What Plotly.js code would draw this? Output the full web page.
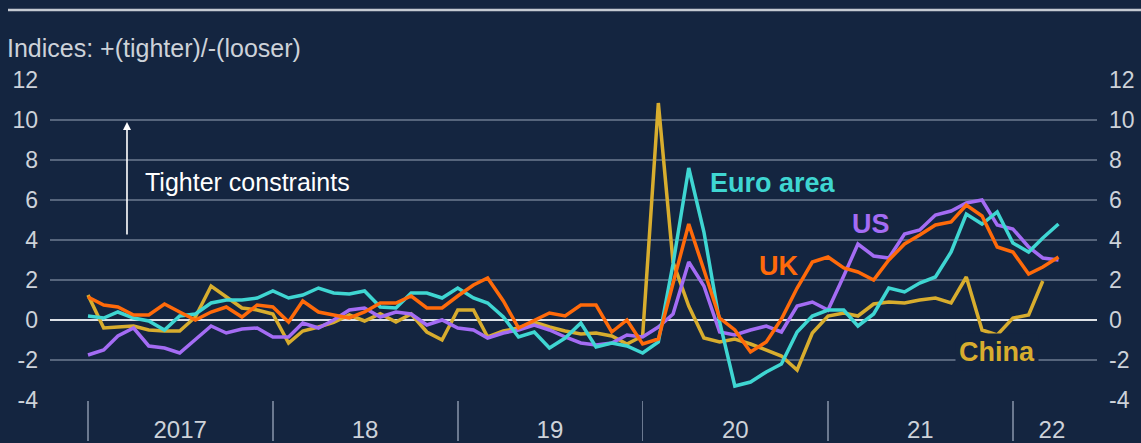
<!DOCTYPE html>
<html>
<head>
<meta charset="utf-8">
<script src="https://cdn.plot.ly/plotly-3.0.1.min.js"></script>
<style>
html,body{margin:0;padding:0;background:#142540;}
#chart{width:1141px;height:443px;}
</style>
</head>
<body>
<div id="chart"></div>
<script>
// Monthly observations starting January 2017
const startYear = 2017;
const usValues = [
  -1.75, -1.5, -0.8, -0.4, -1.3, -1.4, -1.65, -0.95, -0.3, -0.65, -0.45, -0.4,
  -0.85, -0.85, -0.15, -0.4, 0.0, 0.5, 0.6, 0.15, 0.4, 0.3, -0.25, 0.0,
  -0.4, -0.5, -0.9, -0.65, -0.5, -0.25, -0.5, -0.85, -1.15, -1.25, -1.15, -0.75,
  -0.85, -0.35, 0.3, 2.9, 1.7, -0.6, -0.75, -0.5, -0.3, -0.6, 0.7, 0.9,
  0.5, 2.2, 3.8, 3.2, 3.1, 4.3, 4.5, 5.25, 5.45, 5.85, 6.0, 4.75,
  4.55, 3.65, 3.1, 3.0
];
const euroValues = [
  0.2, 0.1, 0.4, 0.1, -0.05, -0.5, 0.2, 0.3, 0.85, 1.0, 1.0, 1.1,
  1.45, 1.1, 1.25, 1.6, 1.35, 1.3, 1.45, 0.65, 0.6, 1.35, 1.35, 1.1,
  1.6, 1.1, 0.85, 0.15, -0.85, -0.6, -1.4, -0.9, -0.15, -1.35, -1.15, -1.3,
  -1.65, -1.1, 2.8, 7.6, 4.4, -0.1, -3.3, -3.1, -2.6, -2.2, -0.6, 0.2,
  0.5, 0.5, -0.3, 0.3, 1.6, 1.4, 1.85, 2.15, 3.4, 5.3, 4.8, 5.4,
  3.85, 3.4, 4.1, 4.8
];
const ukValues = [
  1.15, 0.75, 0.65, 0.25, 0.25, 0.8, 0.4, 0.0, 0.4, 0.65, 0.15, 0.75,
  0.65, -0.1, 0.95, 0.4, 0.25, 0.1, 0.4, 0.85, 0.85, 1.2, 0.6, 0.6,
  1.2, 1.75, 2.1, 0.95, -0.4, 0.0, 0.35, 0.2, 0.75, 0.75, -0.6, 0.0,
  -1.2, -0.95, 1.8, 4.8, 2.5, 0.1, -0.5, -1.6, -1.1, 0.05, 1.6, 2.9,
  3.15, 2.6, 2.4, 2.0, 3.0, 3.8, 4.25, 4.75, 4.9, 5.75, 5.2, 3.65,
  3.4, 2.3, 2.65, 3.15
];
const chinaValues = [
  1.25, -0.4, -0.35, -0.3, -0.5, -0.55, -0.55, 0.15, 1.7, 1.15, 0.6, 0.5,
  0.3, -1.15, -0.55, -0.35, -0.12, 0.25, -0.05, 0.32, -0.1, 0.3, -0.6, -1.0,
  0.5, 0.5, -0.85, -0.55, -0.4, -0.1, -0.35, -0.55, -0.7, -0.65, -0.8, -1.2,
  -0.8, 10.85, 2.9, 0.7, -0.9, -1.1, -0.95, -1.2, -1.5, -1.8, -2.5, -0.65,
  0.2, 0.35, 0.2, 0.8, 0.9, 0.85, 1.0, 1.1, 0.85, 2.15, -0.5, -0.75,
  0.1, 0.25, 1.95
];
const yearStarts = ['2017-01-01','2018-01-01','2019-01-01','2020-01-01','2021-01-01','2022-01-01'];
const yearLabelPos = ['2017-07-02','2018-07-02','2019-07-02','2020-07-02','2021-07-02','2022-03-19'];
const yearLabels = ['2017','18','19','20','21','22'];
const yTickVals = [-4,-2,0,2,4,6,8,10,12];
const yTickText = ['-4','-2','0','2','4','6','8','10','12'];

function months(n){
  const out=[];
  for(let i=0;i<n;i++){
    const y = startYear + Math.floor(i/12);
    const m = (i%12)+1;
    out.push(y + '-' + (m<10?'0':'') + m + '-01');
  }
  return out;
}

const BG = '#142540';
const GRID = '#56657c';
const TXT = '#cdd2d9';
const FONT = 'Liberation Sans, Arial, sans-serif';

const series = [
  {name:'China', vals: chinaValues, color:'#d8ad2e'},
  {name:'US', vals: usValues, color:'#a46cf4'},
  {name:'Euro area', vals: euroValues, color:'#3fd6d2'},
  {name:'UK', vals: ukValues, color:'#ff6a0a'}
];
const traces = series.map(s => ({
  type:'scatter', mode:'lines', name:s.name,
  x: months(s.vals.length), y: s.vals,
  line:{color:s.color, width:3.5}, hoverinfo:'skip'
}));
// invisible trace to activate the secondary axes
traces.push({type:'scatter', mode:'lines', x:[yearStarts[0]], y:[0], xaxis:'x2', yaxis:'y2', showlegend:false, hoverinfo:'skip', line:{width:0}});

const xRange = ['2016-10-18','2022-06-16'];
const yRange = [-4, 12];

const layout = {
  width:1141, height:443,
  paper_bgcolor:BG, plot_bgcolor:BG,
  margin:{l:50, r:44, t:80, b:43},
  showlegend:false,
  font:{family:FONT, color:TXT, size:22},
  title:{text:'Indices: +(tighter)/-(looser)', x:7/1141, xanchor:'left', xref:'container',
         y:1-48/443, yanchor:'middle', yref:'container', font:{family:FONT, size:25, color:TXT}},
  xaxis:{type:'date', range:xRange, tickmode:'array', tickvals:yearStarts, ticktext:yearStarts.map(()=>''),
         ticks:'outside', ticklen:40, tickwidth:1.5, tickcolor:'#6b7990', showgrid:false, zeroline:false,
         showline:false, fixedrange:true},
  xaxis2:{type:'date', overlaying:'x', matches:'x', range:xRange, anchor:'y', side:'bottom',
          tickmode:'array', tickvals:yearLabelPos, ticktext:yearLabels, ticks:'', showgrid:false,
          zeroline:false, showline:false, ticklabelstandoff:13, tickfont:{size:24, color:TXT}},
  yaxis:{range:yRange, tickmode:'array', tickvals:yTickVals, ticktext:yTickText, showgrid:true,
         gridcolor:GRID, gridwidth:1.5, zeroline:true, zerolinecolor:'#dde1e6', zerolinewidth:2,
         ticks:'', showline:false, tickfont:{size:23, color:TXT}, ticklabelstandoff:11},
  yaxis2:{range:yRange, overlaying:'y', side:'right', anchor:'x', tickmode:'array', tickvals:yTickVals,
          ticktext:yTickText, showgrid:false, zeroline:false, ticks:'', showline:false,
          tickfont:{size:23, color:TXT}, ticklabelstandoff:11},
  shapes:[
    {type:'line', xref:'paper', yref:'paper', x0:(8-50)/1047, x1:(1141-50)/1047,
     y0:(400-10)/320, y1:(400-10)/320, line:{color:'#c5cad2', width:2.5}}
  ],
  annotations:[
    {x:'2017-03-19', y:9.9, ax:'2017-03-19', ay:4.2, axref:'x', ayref:'y', xref:'x', yref:'y',
     text:'', showarrow:true, arrowhead:2, arrowsize:1, arrowwidth:1.6, arrowcolor:'#ffffff'},
    {x:'2017-04-19', y:6.9, xref:'x', yref:'y', text:'Tighter constraints', showarrow:false,
     xanchor:'left', yanchor:'middle', font:{size:25, color:'#ffffff', family:FONT}},
    {x:'2020-05-09', y:6.85, xref:'x', yref:'y', text:'<b>Euro area</b>', showarrow:false,
     xanchor:'left', yanchor:'middle', font:{size:27, color:'#3fd6d2', family:FONT}},
    {x:'2021-02-13', y:4.8, xref:'x', yref:'y', text:'<b>US</b>', showarrow:false,
     xanchor:'left', yanchor:'middle', font:{size:27, color:'#a46cf4', family:FONT}},
    {x:'2020-08-13', y:2.7, xref:'x', yref:'y', text:'<b>UK</b>', showarrow:false,
     xanchor:'left', yanchor:'middle', font:{size:27, color:'#ff6a0a', family:FONT}},
    {x:'2021-09-09', y:-1.6, xref:'x', yref:'y', text:'<b>China</b>', showarrow:false,
     xanchor:'left', yanchor:'middle', bgcolor:BG, borderpad:3, font:{size:27, color:'#d8ad2e', family:FONT}}
  ]
};

Plotly.newPlot('chart', traces, layout, {displayModeBar:false, staticPlot:true});
</script>
</body>
</html>
